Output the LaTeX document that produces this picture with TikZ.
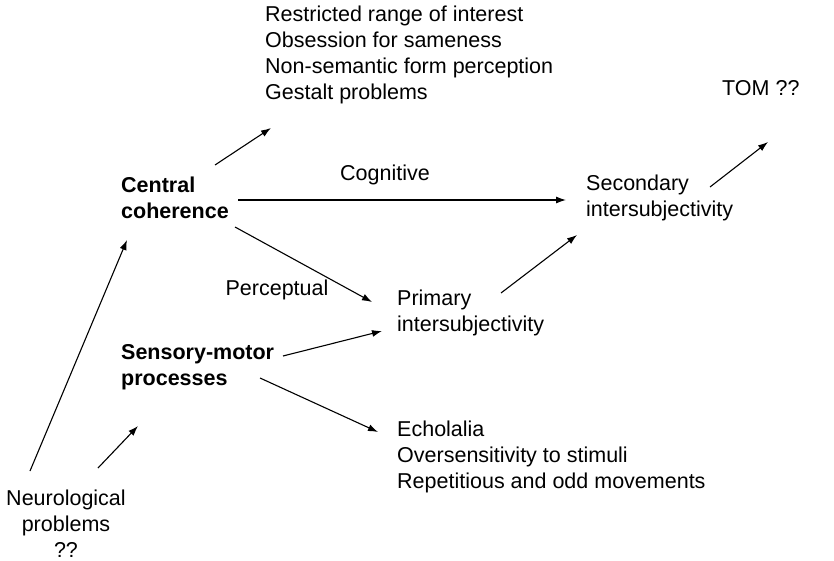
\documentclass[tikz,border=0pt]{standalone}
\usepackage{fontspec}
\setmainfont{Liberation Sans}
\usetikzlibrary{arrows.meta,positioning}
\tikzset{
  txt/.style={
    inner sep = 0pt,
    align = left,
    font = \fontsize{21.5}{26}\selectfont
  },
  key/.style={
    txt,
    font = \fontsize{21.5}{26}\selectfont\bfseries
  },
  lbl/.style={
    inner sep = 0pt,
    font = \fontsize{21.5}{26}\selectfont
  },
  arr/.style={
    line width = 1.1pt,
    -{Latex[length=10pt,width=7pt]}
  },
}
\begin{document}
\begin{tikzpicture}[x=1pt,y=-1pt]
\useasboundingbox (0,0) rectangle (834,561);
\node[txt, anchor=west] (range) at (265,55) {Restricted range of interest\\Obsession for sameness\\Non-semantic form perception\\Gestalt problems};
\node[txt, anchor=west] (tom) at (722,88) {TOM ??};
\node[key, anchor=west] (cc) at (121,198) {Central\\coherence};
\node[lbl] (cog) at (385,175) {Cognitive};
\node[txt, anchor=west] (sec) at (586,198) {Secondary\\intersubjectivity};
\node[lbl] (perc) at (277,290) {Perceptual};
\node[txt, anchor=west] (prim) at (397,313) {Primary\\intersubjectivity};
\node[key, anchor=west] (smp) at (121,367) {Sensory-motor\\processes};
\node[txt, anchor=west] (echo) at (397,457) {Echolalia\\Oversensitivity to stimuli\\Repetitious and odd movements};
\node[txt, align=center] (neuro) at (66,524) {Neurological\\problems\\??};
% arrows
\draw[arr] ([shift={(-36,-53)}]neuro.center) -- ([shift={(6,42)}]cc.west);
\draw[arr] ([shift={(32,-56)}]neuro.center) -- ([shift={(17,59)}]smp.west);
\draw[arr] ([shift={(94,-33)}]cc.west) -- ([shift={(6,73)}]range.west);
\draw[arr] ([shift={(117,2)}]cc.west) -- ([shift={(-20,2)}]sec.west);
\draw[arr] ([shift={(114,29)}]cc.west) -- ([shift={(-25,-11)}]prim.west);
\draw[arr] ([shift={(162,-11)}]smp.west) -- ([shift={(-15,18)}]prim.west);
\draw[arr] ([shift={(139,11)}]smp.west) -- ([shift={(-19,-25)}]echo.west);
\draw[arr] ([shift={(104,-20)}]prim.west) -- ([shift={(-9,37)}]sec.west);
\draw[arr] ([shift={(124,-11)}]sec.west) -- ([shift={(46,54)}]tom.west);
\end{tikzpicture}
\end{document}
